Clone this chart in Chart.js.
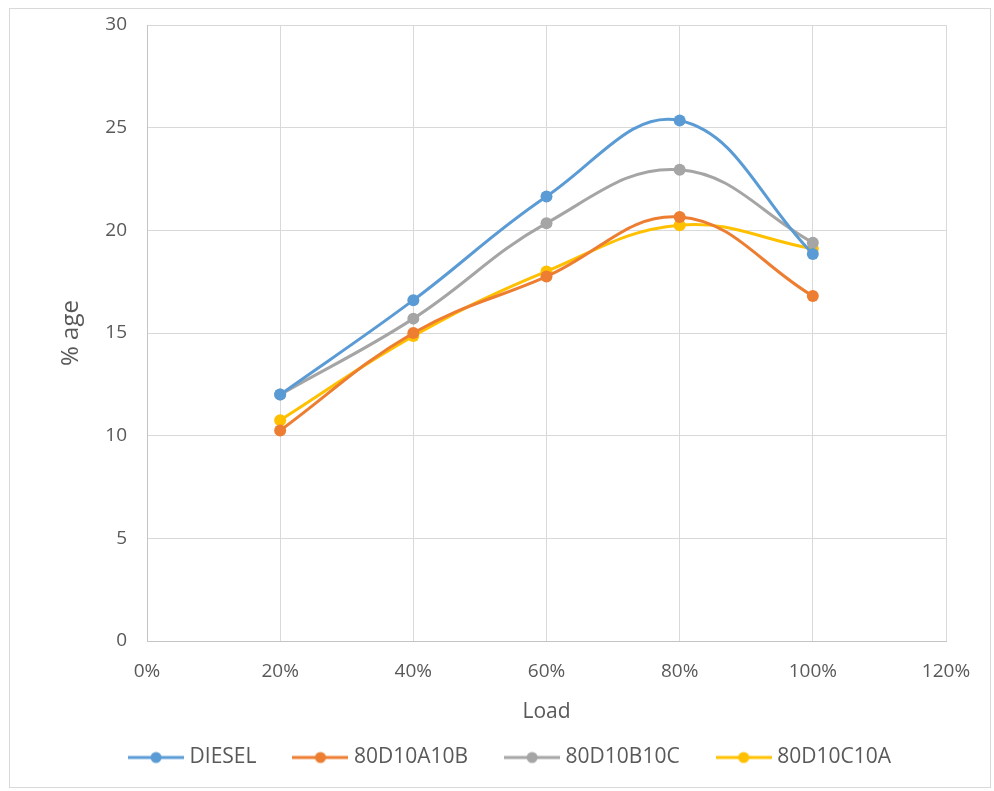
<!DOCTYPE html>
<html>
<head>
<meta charset="utf-8">
<script src="https://cdn.jsdelivr.net/npm/chart.js@4.4.1/dist/chart.umd.min.js"></script>
<style>
    html, body { margin: 0; padding: 0; background: #fff; }
    #frame {
        position: absolute; left: 9px; top: 8px;
        width: 980px; height: 778px;
        border: 1px solid #d9d9d9;
    }
    #chart { position: absolute; left: 0; top: 0; }
</style>
</head>
<body>
<div id="frame"></div>
<canvas id="chart" width="994" height="791"></canvas>
<script>
const loads = [0.2, 0.4, 0.6, 0.8, 1.0];
const diesel = [12.0, 16.6, 21.65, 25.35, 18.85];
const mixA10B = [10.25, 15.0, 17.75, 20.65, 16.8];
const mixB10C = [12.0, 15.7, 20.35, 22.95, 19.4];
const mixC10A = [10.75, 14.85, 18.0, 20.25, 19.1];

const seriesNames = ['DIESEL', '80D10A10B', '80D10B10C', '80D10C10A'];
const seriesColors = ['#5B9BD5', '#ED7D31', '#A5A5A5', '#FFC000'];
const seriesValues = [diesel, mixA10B, mixB10C, mixC10A];

const font = "'Open Sans', 'Liberation Sans', sans-serif";
const textColor = '#595959';
const gridColor = '#d9d9d9';
const axisColor = '#c4c4c4';

// legend marker: short line with a dot in the middle
function legendMarker(color) {
    var c = document.createElement('canvas');
    c.width = 56;
    c.height = 14;
    var ctx = c.getContext('2d');
    ctx.strokeStyle = color;
    ctx.lineWidth = 3;
    ctx.beginPath();
    ctx.moveTo(0, 7);
    ctx.lineTo(56, 7);
    ctx.stroke();
    ctx.fillStyle = color;
    ctx.beginPath();
    ctx.arc(28, 7, 5.5, 0, Math.PI * 2);
    ctx.fill();
    return c;
}

// nudge the legend row into place and let it draw below its clamped box
const legendShift = {
    id: 'legendShift',
    afterLayout(chart) {
        chart.legend.left += 39;
        chart.legend.right += 39;
        chart.legend.top -= 6;
        chart.legend.bottom += 30;
    }
};

const datasets = seriesNames.map((name, i) => ({
    label: name,
    data: loads.map((x, j) => ({ x: x, y: seriesValues[i][j] })),
    borderColor: seriesColors[i],
    backgroundColor: seriesColors[i],
    borderWidth: 3,
    pointRadius: 6,
    pointHoverRadius: 6,
    pointBorderWidth: 0,
    tension: 0.4,
    legendImg: legendMarker(seriesColors[i])
}));

new Chart(document.getElementById('chart').getContext('2d'), {
    type: 'line',
    data: { datasets: datasets },
    plugins: [legendShift],
    options: {
        responsive: false,
        animation: false,
        layout: { padding: { left: 0, right: 48, top: 25, bottom: 39 } },
        plugins: {
            tooltip: { enabled: false },
            legend: {
                position: 'bottom',
                maxHeight: 40,
                labels: {
                    usePointStyle: true,
                    pointStyleWidth: 46,
                    padding: 41,
                    color: textColor,
                    font: { family: font, size: 21 },
                    generateLabels: (chart) => chart.data.datasets.map((ds, i) => ({
                        text: ds.label,
                        pointStyle: ds.legendImg,
                        fillStyle: ds.borderColor,
                        strokeStyle: ds.borderColor,
                        lineWidth: 0,
                        fontColor: textColor,
                        datasetIndex: i
                    }))
                }
            }
        },
        scales: {
            x: {
                type: 'linear',
                min: 0,
                max: 1.2,
                ticks: {
                    stepSize: 0.2,
                    padding: 19,
                    color: textColor,
                    font: { family: font, size: 19 },
                    callback: (v) => Math.round(v * 100) + '%'
                },
                grid: { color: gridColor, drawTicks: false, lineWidth: 1 },
                border: { color: axisColor },
                title: {
                    display: true,
                    text: 'Load',
                    color: textColor,
                    font: { family: font, size: 21 },
                    padding: { top: 0, bottom: -13 }
                },
                afterFit: (scale) => {
                    scale.height = 71;
                    scale.paddingLeft = 0;
                    scale.paddingRight = 0;
                }
            },
            y: {
                min: 0,
                max: 30,
                ticks: {
                    stepSize: 5,
                    padding: 20,
                    color: textColor,
                    font: { family: font, size: 19 }
                },
                grid: { color: gridColor, drawTicks: false, lineWidth: 1 },
                border: { color: axisColor },
                title: {
                    display: true,
                    text: '% age',
                    color: textColor,
                    font: { family: font, size: 24 },
                    padding: { top: 57, bottom: 0 }
                },
                afterFit: (scale) => {
                    scale.width = 147;
                    scale.paddingTop = 0;
                    scale.paddingBottom = 0;
                }
            }
        }
    }
});
</script>
</body>
</html>
